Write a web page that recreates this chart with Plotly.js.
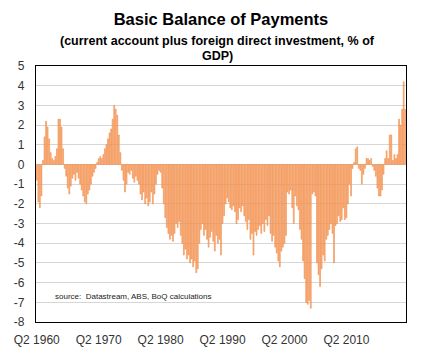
<!DOCTYPE html>
<html>
<head>
<meta charset="utf-8">
<script src="https://cdn.plot.ly/plotly-3.0.1.min.js"></script>
<style>html,body{margin:0;padding:0;background:#fff;}#chart{width:436px;height:354px;}</style>
</head>
<body>
<div id="chart"></div>
<script>
// Basic balance of payments, % of GDP, quarterly from Q2 1960
var bbp1960s = [-0.8,-1.9,-2.2,-1.6,0.2,1.4,2.2,1.9,1.3,0.6,0.3,0.2,0.4,0.8,2.3,2.3,1.9,0.8,-0.2,-0.6,
  -1.2,-1.5,-1.1,-0.7,-0.5,-0.8,-0.4,-0.7,-1.0,-1.3,-1.6,-1.9,-2.0,-1.5,-1.3,-1.0,-0.6,-0.4,-0.2,0.1];
var bbp1970s = [0.3,0.4,0.3,0.5,0.8,1.0,1.3,1.6,1.8,2.3,3.0,2.8,2.5,1.5,0.6,-0.3,-0.8,-1.4,-1.0,-0.4,
  -0.5,-0.3,-0.7,-0.9,-0.6,-0.8,-1.0,-1.5,-1.8,-1.4,-2.0,-1.7,-2.1,-1.9,-1.4,-2.0,-1.5,-1.0,-0.5,-0.3];
var bbp1980s = [-0.4,-1.2,-2.0,-2.7,-3.2,-3.5,-3.8,-3.6,-3.9,-3.5,-3.0,-3.2,-2.9,-3.6,-4.0,-4.6,-4.3,-4.8,-4.6,-5.0,
  -4.8,-5.2,-4.9,-5.5,-5.3,-4.0,-3.3,-3.0,-3.6,-3.3,-3.8,-4.2,-3.7,-3.4,-3.9,-4.4,-3.6,-4.0,-3.8,-4.6];
var bbp1990s = [-3.0,-2.6,-2.0,-1.7,-1.9,-2.2,-2.3,-2.1,-2.4,-3.0,-2.8,-2.2,-2.4,-2.1,-2.6,-2.9,-3.3,-2.8,-3.8,-3.5,
  -4.6,-3.4,-3.6,-3.3,-3.1,-3.5,-3.0,-3.4,-2.8,-3.1,-2.6,-3.5,-3.9,-3.6,-4.2,-4.5,-4.9,-5.2,-4.4,-4.2];
var bbp2000s = [-4.0,-3.6,-1.4,-1.5,-1.3,-2.2,-3.0,-1.6,-2.1,-2.3,-3.3,-3.8,-4.9,-5.8,-7.0,-7.1,-6.9,-7.3,-1.5,-1.4,
  -1.6,-5.0,-5.6,-6.2,-5.3,-4.6,-4.9,-3.8,-3.6,-3.3,-3.0,-3.5,-5.0,-3.1,-3.0,-2.6,-2.9,-2.8,-2.2,-2.8];
var bbp2010s = [-2.7,-2.0,-1.0,-1.6,-0.2,0.1,0.8,0.9,-0.2,-0.3,-1.0,-0.5,-0.2,0.3,0.3,0.2,0.3,-0.1,-0.3,-0.6,
  -1.2,-1.6,-1.6,-1.3,-0.5,0.3,0.7,0.3,1.5,1.5,0.2,0.5,0.3,0.5,2.3,2.0,2.8,4.2,2.8];

var values = [].concat(bbp1960s, bbp1970s, bbp1980s, bbp1990s, bbp2000s, bbp2010s);

var startYear = 1960, startQuarter = 2;
var quarters = [];
for (var i = 0; i < values.length; i++) {
  var qi = (startQuarter - 1) + i;
  quarters.push('Q' + (qi % 4 + 1) + ' ' + (startYear + Math.floor(qi / 4)));
}
var tickLabels = ['Q2 1960','Q2 1970','Q2 1980','Q2 1990','Q2 2000','Q2 2010'];
var yTicks = [5,4,3,2,1,0,-1,-2,-3,-4,-5,-6,-7,-8];

var font = 'Arial, "Liberation Sans", sans-serif';

Plotly.newPlot('chart', [{
  type: 'bar',
  x: quarters,
  y: values,
  marker: {color: '#FBC199', line: {color: '#EE7A2C', width: 0.5}},
  hoverinfo: 'x+y'
}], {
  width: 436, height: 354,
  margin: {l: 36, r: 30, t: 66, b: 32, pad: 0},
  paper_bgcolor: '#fff', plot_bgcolor: '#fff',
  bargap: 0.4,
  showlegend: false,
  title: {text: '<b>Basic Balance of Payments</b>', font: {family: font, size: 16.5, color: '#000'},
          x: 0.5, xref: 'paper', xanchor: 'center', y: 1, yref: 'container', yanchor: 'top', pad: {t: 13}},
  annotations: [
    {text: '<b>(current account plus foreign direct investment, % of</b>', xref: 'paper', yref: 'paper',
     x: 0.49, y: 1.0, yshift: 25, xanchor: 'center', yanchor: 'middle', showarrow: false,
     font: {family: font, size: 12.5, color: '#000'}},
    {text: '<b>GDP)</b>', xref: 'paper', yref: 'paper',
     x: 0.49, y: 1.0, yshift: 10, xanchor: 'center', yanchor: 'middle', showarrow: false,
     font: {family: font, size: 12.5, color: '#000'}},
    {text: 'source:  Datastream, ABS, BoQ calculations', xref: 'paper', yref: 'y',
     x: 0.046, y: -6.7, xanchor: 'left', yanchor: 'middle', showarrow: false,
     font: {family: font, size: 8, color: '#222'}}
  ],
  xaxis: {
    type: 'category',
    tickmode: 'array', tickvals: tickLabels, ticktext: tickLabels,
    range: [-0.5, values.length - 0.5],
    showgrid: false, ticks: '', showline: true, mirror: true, linecolor: '#000', linewidth: 1.2,
    tickfont: {family: font, size: 12, color: '#333'}, ticklabelstandoff: 6,
    zeroline: false, fixedrange: true
  },
  yaxis: {
    range: [-8, 5], tickmode: 'array', tickvals: yTicks, ticktext: yTicks.map(String),
    showgrid: true, gridcolor: '#D6D6D6', gridwidth: 1,
    ticks: '', showline: true, mirror: true, linecolor: '#000', linewidth: 1.2,
    tickfont: {family: font, size: 12, color: '#333'}, ticklabelstandoff: 8,
    zeroline: false, fixedrange: true
  }
}, {displayModeBar: false, staticPlot: true});
</script>
</body>
</html>
